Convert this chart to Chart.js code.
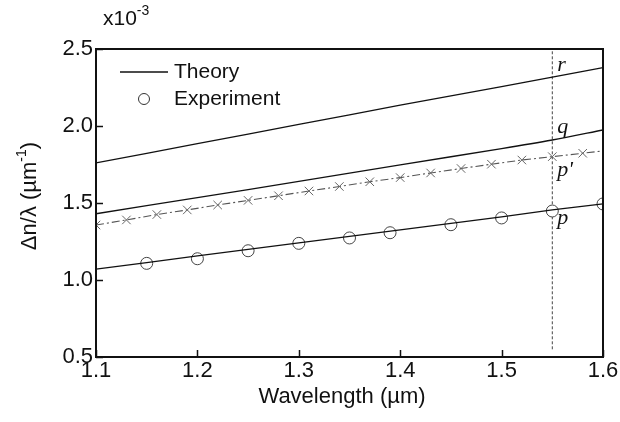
<!DOCTYPE html>
<html>
<head>
<meta charset="utf-8">
<script src="https://cdn.jsdelivr.net/npm/chart.js@4.4.0/dist/chart.umd.min.js"></script>
<style>
  body { margin: 0; background: #fff; }
  canvas { display: block; }
</style>
</head>
<body>
<canvas id="myChart" width="620" height="422"></canvas>
<script>
// theory curves (x10^-3 um^-1)
const theoryX = [1.1, 1.2, 1.3, 1.4, 1.5, 1.55, 1.6];
const theoryR = [1.76, 1.885, 2.01, 2.135, 2.255, 2.318, 2.379];
const theoryQ = [1.43, 1.535, 1.64, 1.748, 1.853, 1.909, 1.974];
const theoryP = [1.071, 1.156, 1.241, 1.326, 1.41, 1.455, 1.494];

// p' curve with cross markers
const primeX = [1.1, 1.13, 1.16, 1.19, 1.22, 1.25, 1.28, 1.31, 1.34, 1.37, 1.4, 1.43, 1.46, 1.49, 1.52, 1.55, 1.58, 1.6];
const primeY = [1.357, 1.39, 1.425, 1.455, 1.487, 1.517, 1.547, 1.578, 1.607, 1.638, 1.665, 1.695, 1.724, 1.752, 1.779, 1.801, 1.823, 1.838];

// experiment
const expX = [1.15, 1.2, 1.25, 1.3, 1.35, 1.39, 1.45, 1.5, 1.55, 1.6];
const expY = [1.108, 1.138, 1.19, 1.238, 1.273, 1.307, 1.359, 1.403, 1.448, 1.494];

// vertical marker at 1.55 um
const markerX = [1.55, 1.55];
const markerY = [0.55, 2.5];

const xTicks = [1.1, 1.2, 1.3, 1.4, 1.5, 1.6];
const yTicks = [0.5, 1.0, 1.5, 2.0, 2.5];

const curveLabels = [
    { text: "r", y: 2.396 },
    { text: "q", y: 1.994 },
    { text: "p'", y: 1.714 },
    { text: "p", y: 1.403 }
];

const sansFont = '"Liberation Sans", Arial, sans-serif';
const serifFont = '"Liberation Serif", "Times New Roman", serif';

function pts(xs, ys) {
    return xs.map((x, i) => ({ x: x, y: ys[i] }));
}

function theoryLine(ys) {
    return {
        data: pts(theoryX, ys),
        borderColor: "#111",
        borderWidth: 1.3,
        pointRadius: 0,
        tension: 0.3,
        clip: 0
    };
}

const extras = {
    id: "extras",
    afterDatasetsDraw(chart) {
        const ctx = chart.ctx;
        const a = chart.chartArea;
        const xs = chart.scales.x;
        const ys = chart.scales.y;
        ctx.save();

        // frame
        ctx.strokeStyle = "#111";
        ctx.lineWidth = 2;
        ctx.strokeRect(a.left, a.top, a.right - a.left, a.bottom - a.top);

        // inward ticks
        ctx.lineWidth = 1.5;
        ctx.beginPath();
        xTicks.forEach(v => {
            const px = Math.round(xs.getPixelForValue(v)) + 0.5;
            ctx.moveTo(px, a.bottom);
            ctx.lineTo(px, a.bottom - 7);
        });
        yTicks.forEach(v => {
            const py = Math.round(ys.getPixelForValue(v)) + 0.5;
            ctx.moveTo(a.left, py);
            ctx.lineTo(a.left + 7, py);
        });
        ctx.stroke();

        // curve labels
        ctx.fillStyle = "#111";
        ctx.font = "italic 22px " + serifFont;
        ctx.textAlign = "left";
        ctx.textBaseline = "middle";
        const lx = xs.getPixelForValue(1.55) + 5;
        curveLabels.forEach(l => {
            ctx.fillText(l.text, lx, ys.getPixelForValue(l.y));
        });

        // legend
        ctx.strokeStyle = "#111";
        ctx.lineWidth = 1.3;
        ctx.beginPath();
        ctx.moveTo(120, 72);
        ctx.lineTo(168, 72);
        ctx.stroke();
        ctx.beginPath();
        ctx.arc(144, 99, 5.5, 0, Math.PI * 2);
        ctx.fillStyle = "#fff";
        ctx.fill();
        ctx.strokeStyle = "#333";
        ctx.lineWidth = 1;
        ctx.stroke();
        ctx.fillStyle = "#111";
        ctx.font = "21px " + sansFont;
        ctx.fillText("Theory", 174, 72);
        ctx.fillText("Experiment", 174, 99);

        // multiplier
        ctx.font = "21px " + sansFont;
        ctx.textBaseline = "alphabetic";
        ctx.fillText("x10", 103, 25);
        const w = ctx.measureText("x10").width;
        ctx.font = "14px " + sansFont;
        ctx.fillText("-3", 103 + w, 15);

        // x title
        ctx.font = "22px " + sansFont;
        ctx.textAlign = "center";
        ctx.textBaseline = "middle";
        ctx.fillText("Wavelength (\u00b5m)", 342, 397);

        // y title with superscript
        ctx.translate(30, 196);
        ctx.rotate(-Math.PI / 2);
        const main = "\u0394n/\u03bb (\u00b5m";
        ctx.font = "22px " + sansFont;
        const mw = ctx.measureText(main).width;
        ctx.font = "14px " + sansFont;
        const sw = ctx.measureText("-1").width;
        ctx.font = "22px " + sansFont;
        const cw = ctx.measureText(")").width;
        let x0 = -(mw + sw + cw) / 2;
        ctx.textAlign = "left";
        ctx.fillText(main, x0, 0);
        ctx.font = "14px " + sansFont;
        ctx.fillText("-1", x0 + mw, -8);
        ctx.font = "22px " + sansFont;
        ctx.fillText(")", x0 + mw + sw, 0);

        ctx.restore();
    }
};

new Chart(document.getElementById("myChart"), {
    type: "line",
    data: {
        datasets: [
            theoryLine(theoryR),
            theoryLine(theoryQ),
            theoryLine(theoryP),
            {
                data: pts(primeX, primeY),
                borderColor: "#555",
                borderWidth: 1.1,
                borderDash: [8, 3, 2, 3],
                pointStyle: "crossRot",
                pointRadius: primeX.map(x => x < 1.59 ? 6 : 0),
                pointBorderColor: "#666",
                pointBorderWidth: 1,
                clip: 0
            },
            {
                data: pts(expX, expY),
                showLine: false,
                pointStyle: "circle",
                pointRadius: 6,
                pointBackgroundColor: "#fff",
                pointBorderColor: "#444",
                pointBorderWidth: 1,
                clip: 0
            },
            {
                data: pts(markerX, markerY),
                borderColor: "#444",
                borderWidth: 1,
                borderDash: [3, 2],
                pointRadius: 0,
                clip: 0
            }
        ]
    },
    options: {
        responsive: false,
        animation: false,
        devicePixelRatio: 1,
        layout: { padding: { left: 0, top: 49, right: 17, bottom: 0 } },
        plugins: {
            legend: { display: false },
            tooltip: { enabled: false }
        },
        scales: {
            x: {
                type: "linear",
                min: 1.1,
                max: 1.6,
                afterBuildTicks: s => { s.ticks = xTicks.map(v => ({ value: v })); },
                afterFit: s => { s.height = 65; },
                grid: { display: false, drawTicks: false },
                border: { display: false },
                ticks: {
                    padding: 1,
                    color: "#111",
                    font: { family: sansFont, size: 22 },
                    callback: v => v.toFixed(1)
                }
            },
            y: {
                type: "linear",
                min: 0.5,
                max: 2.5,
                afterBuildTicks: s => { s.ticks = yTicks.map(v => ({ value: v })); },
                afterFit: s => { s.width = 96; },
                grid: { display: false, drawTicks: false },
                border: { display: false },
                ticks: {
                    padding: 3,
                    color: "#111",
                    font: { family: sansFont, size: 22 },
                    callback: v => v.toFixed(1)
                }
            }
        }
    },
    plugins: [extras]
});
</script>
</body>
</html>
